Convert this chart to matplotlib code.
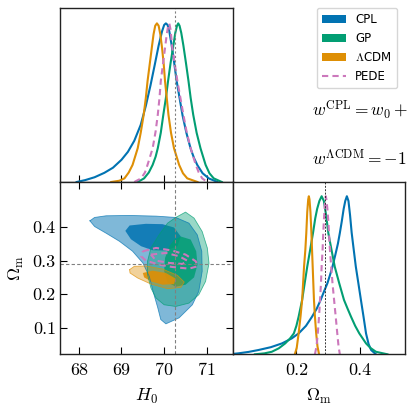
import numpy as np
import matplotlib
matplotlib.use('Agg')
import matplotlib.pyplot as plt
from matplotlib.patches import Patch
from matplotlib.lines import Line2D

plt.rcParams['font.family'] = 'serif'
plt.rcParams['font.serif'] = ['cmr10']
plt.rcParams['mathtext.fontset'] = 'cm'
plt.rcParams['axes.formatter.use_mathtext'] = True

# colours (seaborn colorblind-like)
c_cpl = '#0173B2'
c_gp = '#029E73'
c_lcdm = '#DE8F05'
c_pede = '#CC78BC'

# fiducial values (dashed guide lines)
h0_fid = 70.26
om_fid = 0.291

# --- 1D marginals for H0 (normalised to peak = 1) ---
h0_cpl_x = [67.95, 68.15, 68.37, 68.60, 68.80, 69.00, 69.15, 69.30, 69.45, 69.57, 69.68, 69.78,
            69.87, 69.95, 70.00, 70.04, 70.08, 70.12, 70.17, 70.23, 70.29, 70.36, 70.43, 70.52,
            70.62, 70.70, 70.78, 70.90, 71.05, 71.25]
h0_cpl_y = [0.0, 0.012, 0.03, 0.058, 0.09, 0.14, 0.19, 0.26, 0.36, 0.48, 0.61, 0.74,
            0.86, 0.95, 0.99, 1.0, 0.99, 0.95, 0.87, 0.76, 0.64, 0.53, 0.42, 0.31,
            0.21, 0.15, 0.105, 0.055, 0.022, 0.0]
h0_gp_x = [69.38, 69.53, 69.64, 69.73, 69.80, 69.85, 69.92, 69.98, 70.04, 70.09, 70.15, 70.22,
           70.26, 70.30, 70.33, 70.36, 70.40, 70.45, 70.51, 70.57, 70.62, 70.68, 70.76, 70.85,
           70.97, 71.06, 71.16, 71.35]
h0_gp_y = [0.0, 0.023, 0.06, 0.108, 0.16, 0.213, 0.31, 0.424, 0.53, 0.635, 0.75, 0.87,
           0.94, 0.985, 1.0, 0.985, 0.94, 0.86, 0.75, 0.635, 0.53, 0.424, 0.31, 0.213,
           0.108, 0.055, 0.023, 0.0]
h0_lcdm_x = [68.76, 68.95, 69.07, 69.17, 69.26, 69.38, 69.45, 69.52, 69.57, 69.61, 69.66, 69.71,
             69.75, 69.79, 69.83, 69.87, 69.91, 69.95, 69.99, 70.02, 70.06, 70.10, 70.16, 70.23,
             70.35, 70.44, 70.54, 70.78]
h0_lcdm_y = [0.0, 0.008, 0.023, 0.06, 0.108, 0.213, 0.31, 0.424, 0.53, 0.635, 0.74, 0.846,
             0.93, 0.985, 1.0, 0.985, 0.93, 0.846, 0.74, 0.635, 0.53, 0.424, 0.31, 0.213,
             0.108, 0.055, 0.023, 0.0]
h0_pede_x = [69.30, 69.46, 69.55, 69.61, 69.67, 69.73, 69.80, 69.85, 69.89, 69.92, 69.97, 70.02,
             70.06, 70.09, 70.12, 70.15, 70.19, 70.25, 70.31, 70.38, 70.45, 70.53, 70.62, 70.74,
             70.81, 70.89, 71.01]
h0_pede_y = [0.0, 0.023, 0.06, 0.108, 0.16, 0.213, 0.32, 0.424, 0.53, 0.635, 0.74, 0.846,
             0.93, 0.98, 1.0, 0.96, 0.846, 0.74, 0.635, 0.53, 0.424, 0.31, 0.213, 0.108,
             0.06, 0.023, 0.0]

# --- 1D marginals for Omega_m ---
om_cpl_x = [-0.01, 0.018, 0.05, 0.081, 0.12, 0.155, 0.185, 0.207, 0.23, 0.249, 0.264, 0.276,
            0.287, 0.297, 0.305, 0.313, 0.322, 0.330, 0.336, 0.342, 0.348, 0.353, 0.358, 0.363,
            0.368, 0.373, 0.379, 0.386, 0.394, 0.402, 0.410, 0.418, 0.426, 0.434, 0.449]
om_cpl_y = [0.0, 0.006, 0.015, 0.027, 0.045, 0.069, 0.10, 0.132, 0.18, 0.238, 0.29, 0.344,
            0.40, 0.449, 0.50, 0.555, 0.63, 0.70, 0.767, 0.84, 0.92, 0.97, 1.0, 0.97,
            0.88, 0.77, 0.67, 0.555, 0.45, 0.344, 0.24, 0.132, 0.065, 0.027, 0.0]
om_gp_x = [0.07, 0.10, 0.123, 0.145, 0.165, 0.18, 0.192, 0.200, 0.207, 0.218, 0.226, 0.234,
           0.243, 0.252, 0.259, 0.265, 0.272, 0.279, 0.286, 0.293, 0.300, 0.310, 0.320, 0.334,
           0.349, 0.360, 0.371, 0.384, 0.397, 0.418, 0.432, 0.449, 0.485]
om_gp_y = [0.0, 0.006, 0.016, 0.038, 0.069, 0.10, 0.132, 0.18, 0.238, 0.344, 0.45, 0.555,
           0.66, 0.767, 0.86, 0.92, 0.97, 1.0, 0.97, 0.88, 0.767, 0.66, 0.555, 0.45,
           0.344, 0.29, 0.238, 0.18, 0.132, 0.069, 0.04, 0.016, 0.0]
om_lcdm_x = [0.195, 0.201, 0.207, 0.213, 0.218, 0.221, 0.224, 0.228, 0.231, 0.234, 0.237, 0.239,
             0.241, 0.244, 0.247, 0.249, 0.251, 0.253, 0.255, 0.258, 0.262, 0.266, 0.271]
om_lcdm_y = [0.0, 0.04, 0.132, 0.24, 0.344, 0.45, 0.555, 0.66, 0.767, 0.90, 0.98, 1.0,
             0.98, 0.90, 0.767, 0.66, 0.555, 0.45, 0.344, 0.24, 0.132, 0.05, 0.0]
om_pede_x = [0.258, 0.263, 0.267, 0.271, 0.274, 0.277, 0.279, 0.282, 0.284, 0.287, 0.290, 0.292,
             0.294, 0.297, 0.300, 0.302, 0.305, 0.309, 0.313, 0.318, 0.323, 0.328, 0.332, 0.336]
om_pede_y = [0.0, 0.05, 0.132, 0.24, 0.344, 0.45, 0.555, 0.66, 0.767, 0.88, 0.97, 1.0,
             0.98, 0.92, 0.84, 0.767, 0.66, 0.555, 0.45, 0.344, 0.24, 0.132, 0.05, 0.0]

# --- 2D contours (H0, Omega_m), outer = 95%, inner = 68% ---
cpl_out_h0 = [68.26, 68.37, 68.64, 69.19, 69.81, 70.27, 70.58, 70.775, 70.88, 70.89, 70.81, 70.66,
              70.35, 70.04, 69.92, 69.85, 69.74, 69.65, 69.50, 69.26, 68.95, 68.64, 68.37]
cpl_out_om = [0.419, 0.429, 0.434, 0.435, 0.433, 0.429, 0.412, 0.377, 0.328, 0.268, 0.208, 0.168,
              0.129, 0.111, 0.124, 0.159, 0.208, 0.253, 0.293, 0.328, 0.358, 0.382, 0.402]
cpl_in_h0 = [69.09, 69.19, 69.57, 69.96, 70.23, 70.39, 70.31, 70.04, 69.73, 69.46, 69.22]
cpl_in_om = [0.389, 0.405, 0.410, 0.409, 0.399, 0.372, 0.343, 0.330, 0.331, 0.343, 0.364]

gp_out_h0 = [70.27, 70.50, 70.70, 70.89, 71.01, 71.05, 70.97, 70.81, 70.58, 70.27, 70.00, 69.81,
             69.69, 69.61, 69.61, 69.69, 69.88, 70.08]
gp_out_om = [0.429, 0.445, 0.427, 0.387, 0.338, 0.292, 0.238, 0.198, 0.173, 0.163, 0.168, 0.188,
             0.218, 0.258, 0.298, 0.338, 0.377, 0.412]
gp_in_h0 = [70.39, 70.62, 70.75, 70.78, 70.70, 70.50, 70.27, 70.08, 70.00, 70.02, 70.12, 70.23]
gp_in_om = [0.372, 0.363, 0.328, 0.288, 0.250, 0.228, 0.222, 0.235, 0.268, 0.308, 0.343, 0.362]

lcdm_out_h0 = [69.19, 69.30, 69.57, 69.96, 70.31, 70.47, 70.39, 70.08, 69.69, 69.38, 69.20]
lcdm_out_om = [0.273, 0.283, 0.284, 0.275, 0.256, 0.236, 0.220, 0.216, 0.230, 0.248, 0.263]
lcdm_in_h0 = [69.50, 69.73, 70.04, 70.27, 70.23, 69.96, 69.69, 69.53]
lcdm_in_om = [0.263, 0.270, 0.263, 0.246, 0.230, 0.228, 0.238, 0.250]

pede_out_h0 = [69.50, 69.81, 70.19, 70.50, 70.74, 70.78, 70.58, 70.19, 69.88, 69.57, 69.46]
pede_out_om = [0.328, 0.338, 0.330, 0.318, 0.298, 0.283, 0.276, 0.281, 0.288, 0.300, 0.313]
pede_in_h0 = [69.69, 70.04, 70.35, 70.54, 70.43, 70.12, 69.81]
pede_in_om = [0.318, 0.323, 0.313, 0.300, 0.290, 0.293, 0.300]

h0_ticks = [68, 69, 70, 71]
om_ticks = [0.1, 0.2, 0.3, 0.4]
om_ticks_x = [0.2, 0.4]

fig = plt.figure(figsize=(4.07, 4.07), dpi=100)
W = 407.0
ax_top = fig.add_axes([60 / W, 1 - 182 / W, 172.5 / W, 174.5 / W])
ax_2d = fig.add_axes([60 / W, 1 - 354.3 / W, 172.5 / W, 172.3 / W])
ax_om = fig.add_axes([232.5 / W, 1 - 354.3 / W, 172.5 / W, 172.3 / W])

lw = 1.5
dash = (0, (3, 2))
h0_lim = (67.56, 71.6)
om_lim = (0.02, 0.535)


def closed(a):
    return list(a) + [a[0]]


# top: H0 marginal
ax_top.plot(h0_cpl_x, h0_cpl_y, color=c_cpl, lw=lw)
ax_top.plot(h0_gp_x, h0_gp_y, color=c_gp, lw=lw)
ax_top.plot(h0_lcdm_x, h0_lcdm_y, color=c_lcdm, lw=lw)
ax_top.plot(h0_pede_x, h0_pede_y, color=c_pede, lw=lw, ls=dash)
ax_top.axvline(h0_fid, color='gray', lw=0.8, ls=(0, (2, 2)))
ax_top.set_xlim(h0_lim)
ax_top.set_ylim(0, 1.1)
ax_top.set_xticks(h0_ticks)
ax_top.set_xticklabels([])
ax_top.set_yticks([])
ax_top.tick_params(axis='x', direction='in', length=5, width=0.8)

# bottom-left: 2D contours
ax_2d.fill(cpl_out_h0, cpl_out_om, color=c_cpl, alpha=0.5, lw=0)
ax_2d.plot(closed(cpl_out_h0), closed(cpl_out_om), color=c_cpl, lw=0.6, alpha=0.7)
ax_2d.fill(cpl_in_h0, cpl_in_om, color=c_cpl, alpha=0.85, lw=0)
ax_2d.fill(gp_out_h0, gp_out_om, color=c_gp, alpha=0.4, lw=0)
ax_2d.plot(closed(gp_out_h0), closed(gp_out_om), color=c_gp, lw=0.6, alpha=0.7)
ax_2d.fill(gp_in_h0, gp_in_om, color=c_gp, alpha=0.85, lw=0)
ax_2d.fill(lcdm_out_h0, lcdm_out_om, color=c_lcdm, alpha=0.4, lw=0)
ax_2d.plot(closed(lcdm_out_h0), closed(lcdm_out_om), color=c_lcdm, lw=0.6, alpha=0.7)
ax_2d.fill(lcdm_in_h0, lcdm_in_om, color=c_lcdm, alpha=0.9, lw=0)
ax_2d.plot(closed(pede_out_h0), closed(pede_out_om), color=c_pede, lw=lw, ls=dash)
ax_2d.plot(closed(pede_in_h0), closed(pede_in_om), color=c_pede, lw=lw, ls=dash)
ax_2d.axvline(h0_fid, color='gray', lw=0.8, ls=dash)
ax_2d.axhline(om_fid, color='gray', lw=0.8, ls=dash)
ax_2d.set_xlim(h0_lim)
ax_2d.set_ylim(om_lim)
ax_2d.set_xticks(h0_ticks)
ax_2d.set_yticks(om_ticks)
ax_2d.set_xticklabels([str(t) for t in h0_ticks])
ax_2d.set_yticklabels([str(t) for t in om_ticks])
ax_2d.tick_params(direction='in', length=5, width=0.8, top=True, right=True, labelsize=13)
ax_2d.tick_params(axis='x', pad=6)
ax_2d.tick_params(axis='y', pad=3)
ax_2d.set_xlabel(r'$H_0$', fontsize=13, labelpad=6.5)
ax_2d.set_ylabel(r'$\Omega_{\rm m}$', fontsize=13, labelpad=5)

# bottom-right: Omega_m marginal
ax_om.plot(om_cpl_x, om_cpl_y, color=c_cpl, lw=lw)
ax_om.plot(om_gp_x, om_gp_y, color=c_gp, lw=lw)
ax_om.plot(om_lcdm_x, om_lcdm_y, color=c_lcdm, lw=lw)
ax_om.plot(om_pede_x, om_pede_y, color=c_pede, lw=lw, ls=dash)
ax_om.axvline(om_fid, color='#333333', lw=0.7, ls=(0, (2, 1.5)))
ax_om.set_xlim(0.0, 0.54)
ax_om.set_ylim(0, 1.09)
ax_om.set_xticks(om_ticks_x)
ax_om.set_xticklabels([str(t) for t in om_ticks_x])
ax_om.set_yticks([])
ax_om.tick_params(axis='x', direction='in', length=5, width=0.8, labelsize=13, pad=6)
ax_om.set_xlabel(r'$\Omega_{\rm m}$', fontsize=13, labelpad=6.5)

for a in (ax_top, ax_2d, ax_om):
    for s in a.spines.values():
        s.set_linewidth(1.0)
        s.set_color('#222222')

handles = [Patch(facecolor=c_cpl), Patch(facecolor=c_gp), Patch(facecolor=c_lcdm),
           Line2D([], [], color=c_pede, lw=lw, ls=dash)]
labels = ['CPL', 'GP', r'$\Lambda$CDM', 'PEDE']
fig.legend(handles, labels, loc='upper left', bbox_to_anchor=(317 / W, 1 - 8 / W),
           bbox_transform=fig.transFigure, borderaxespad=0, borderpad=0.45,
           prop={'family': 'DejaVu Sans', 'size': 8.5}, handlelength=2.0)

fig.text(312 / W, 1 - 116 / W, r'$w^{\rm CPL} = w_0 + w_a(1-a)$', fontsize=12.5, va='baseline')
fig.text(312 / W, 1 - 165 / W, r'$w^{\Lambda{\rm CDM}} = -1$', fontsize=12.5, va='baseline')

fig.savefig('out.png', dpi=100)
